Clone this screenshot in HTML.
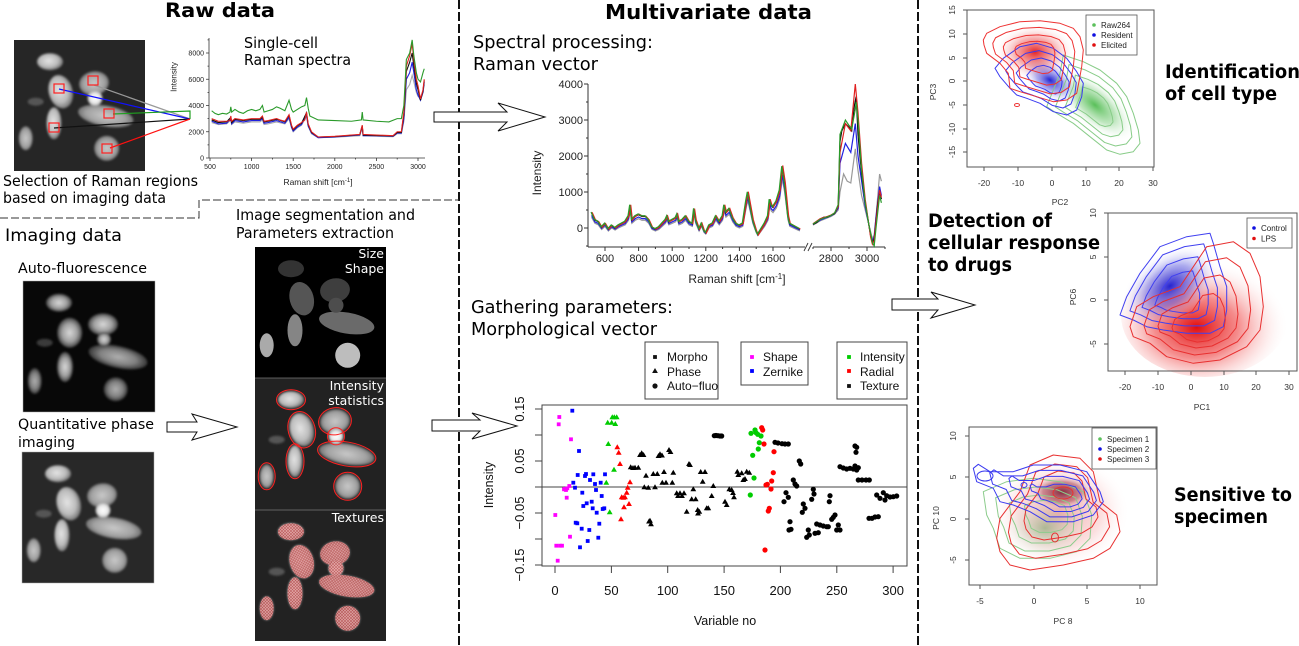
<!DOCTYPE html>
<html><head><meta charset="utf-8"><title>Figure</title>
<style>
html,body{margin:0;padding:0;background:#fff;width:1299px;height:646px;overflow:hidden}
svg{display:block}
.d{font-family:"DejaVu Sans","Liberation Sans",sans-serif}
.l{font-family:"Liberation Sans","DejaVu Sans",sans-serif}
</style></head><body>
<svg width="1299" height="646" viewBox="0 0 1299 646" xmlns="http://www.w3.org/2000/svg">
<defs>
 <filter id="bl" x="-20%" y="-20%" width="140%" height="140%"><feGaussianBlur stdDeviation="1.1"/></filter>
 <radialGradient id="cg" cx="0.45" cy="0.45" r="0.55"><stop offset="0" stop-color="#e4e4e4"/><stop offset="0.65" stop-color="#bcbcbc"/><stop offset="1" stop-color="#767676"/></radialGradient>
 <radialGradient id="cg2" cx="0.5" cy="0.5" r="0.55"><stop offset="0" stop-color="#c8c8c8"/><stop offset="0.65" stop-color="#a2a2a2"/><stop offset="1" stop-color="#626262"/></radialGradient>
 <radialGradient id="cgw" cx="0.5" cy="0.5" r="0.55"><stop offset="0" stop-color="#ffffff"/><stop offset="0.6" stop-color="#e8e8e8"/><stop offset="1" stop-color="#949494"/></radialGradient>
 <radialGradient id="afg" cx="0.5" cy="0.5" r="0.55"><stop offset="0" stop-color="#d8d8d8"/><stop offset="0.55" stop-color="#a0a0a0"/><stop offset="1" stop-color="#2a2a2a"/></radialGradient>
 <radialGradient id="gG" cx="0.5" cy="0.5" r="0.5"><stop offset="0" stop-color="#3cb43c" stop-opacity="0.85"/><stop offset="0.5" stop-color="#70c870" stop-opacity="0.45"/><stop offset="1" stop-color="#ffffff" stop-opacity="0"/></radialGradient>
 <radialGradient id="gB" cx="0.5" cy="0.5" r="0.5"><stop offset="0" stop-color="#1a1ad0" stop-opacity="0.95"/><stop offset="0.5" stop-color="#5a5ae0" stop-opacity="0.5"/><stop offset="1" stop-color="#ffffff" stop-opacity="0"/></radialGradient>
 <radialGradient id="gR" cx="0.5" cy="0.5" r="0.5"><stop offset="0" stop-color="#e00000" stop-opacity="0.95"/><stop offset="0.5" stop-color="#ee5050" stop-opacity="0.5"/><stop offset="1" stop-color="#ffffff" stop-opacity="0"/></radialGradient>
 <radialGradient id="gR2" cx="0.45" cy="0.6" r="0.55"><stop offset="0" stop-color="#e00000" stop-opacity="0.95"/><stop offset="0.45" stop-color="#ee4040" stop-opacity="0.6"/><stop offset="1" stop-color="#ffffff" stop-opacity="0"/></radialGradient>
 <radialGradient id="gR3" cx="0.5" cy="0.5" r="0.5"><stop offset="0" stop-color="#e03c3c" stop-opacity="0.45"/><stop offset="0.6" stop-color="#f08080" stop-opacity="0.25"/><stop offset="1" stop-color="#ffffff" stop-opacity="0"/></radialGradient>
 <radialGradient id="gG3" cx="0.5" cy="0.5" r="0.5"><stop offset="0" stop-color="#50a050" stop-opacity="0.45"/><stop offset="1" stop-color="#ffffff" stop-opacity="0"/></radialGradient>
 <radialGradient id="gD" cx="0.5" cy="0.5" r="0.5"><stop offset="0" stop-color="#7a1830" stop-opacity="0.9"/><stop offset="0.6" stop-color="#a04050" stop-opacity="0.5"/><stop offset="1" stop-color="#ffffff" stop-opacity="0"/></radialGradient>
 <pattern id="hatch" width="3" height="3" patternUnits="userSpaceOnUse"><rect width="3" height="3" fill="#e6a0a0"/><path d="M0,0 L3,3 M3,0 L0,3" stroke="#b84848" stroke-width="0.6"/></pattern>

 <g id="qc" filter="url(#bl)">
  <ellipse cx="21.7" cy="61.7" rx="8" ry="4" fill="#555"/>
  <ellipse cx="36" cy="21.7" rx="13" ry="8.5" fill="url(#cg)"/>
  <ellipse cx="46.7" cy="51.7" rx="12" ry="17" transform="rotate(-15 46.7 51.7)" fill="url(#cg)"/>
  <ellipse cx="80" cy="43.3" rx="15" ry="12" transform="rotate(-10 80 43.3)" fill="url(#cg2)"/>
  <ellipse cx="91.7" cy="76" rx="28" ry="10.5" transform="rotate(10 91.7 76)" fill="url(#cg2)"/>
  <circle cx="81" cy="58.3" r="7.5" fill="url(#cgw)"/>
  <ellipse cx="40" cy="83.3" rx="7.5" ry="16" fill="url(#cg)"/>
  <ellipse cx="11.7" cy="98.3" rx="7" ry="12" fill="url(#cg2)"/>
  <circle cx="92.7" cy="108.3" r="12.5" fill="url(#cg2)"/>
 </g>
 <g id="afc" filter="url(#bl)">
  <ellipse cx="21.7" cy="61.7" rx="8" ry="4" fill="#3a3a3a"/>
  <ellipse cx="36" cy="21.7" rx="13" ry="9" fill="url(#afg)"/>
  <ellipse cx="46.7" cy="51.7" rx="12.5" ry="15" fill="url(#afg)"/>
  <ellipse cx="80" cy="43.3" rx="15" ry="11" fill="url(#afg)"/>
  <ellipse cx="95" cy="76" rx="30" ry="11" transform="rotate(12 95 76)" fill="url(#afg)" opacity="0.8"/>
  <circle cx="81" cy="58.3" r="7" fill="url(#afg)"/>
  <ellipse cx="42" cy="86" rx="8" ry="15" fill="url(#afg)"/>
  <ellipse cx="11.7" cy="100" rx="7" ry="13" fill="url(#afg)" opacity="0.8"/>
  <circle cx="92.7" cy="108.3" r="12" fill="url(#afg)" opacity="0.8"/>
 </g>
 <g id="outl" fill="none" stroke="#ff2020" stroke-width="1">
  <ellipse cx="36" cy="21.7" rx="14.5" ry="10"/>
  <ellipse cx="46.7" cy="51.7" rx="13.5" ry="18.5" transform="rotate(-15 46.7 51.7)"/>
  <ellipse cx="80" cy="43.3" rx="16.5" ry="13.5" transform="rotate(-10 80 43.3)"/>
  <circle cx="81" cy="58.3" r="8.5"/>
  <ellipse cx="91.7" cy="76" rx="29.5" ry="12" transform="rotate(10 91.7 76)"/>
  <ellipse cx="40" cy="83.3" rx="9" ry="17.5"/>
  <ellipse cx="11.7" cy="98.3" rx="8.5" ry="13.5"/>
  <circle cx="92.7" cy="108.3" r="14"/>
 </g>
 <g id="hc" fill="url(#hatch)" opacity="0.85">
  <ellipse cx="36" cy="21.7" rx="13" ry="8.5"/>
  <ellipse cx="46.7" cy="51.7" rx="12" ry="17" transform="rotate(-15 46.7 51.7)"/>
  <ellipse cx="80" cy="43.3" rx="15" ry="12" transform="rotate(-10 80 43.3)"/>
  <circle cx="81" cy="58.3" r="7.5"/>
  <ellipse cx="91.7" cy="76" rx="28" ry="10.5" transform="rotate(10 91.7 76)"/>
  <ellipse cx="40" cy="83.3" rx="7.5" ry="16"/>
  <ellipse cx="11.7" cy="98.3" rx="7" ry="12"/>
  <circle cx="92.7" cy="108.3" r="12.5"/>
 </g>
 <rect id="sq" x="-1.9" y="-1.9" width="3.8" height="3.8"/>
 <path id="tr" d="M0,-3 L2.9,2 L-2.9,2Z"/>
 <circle id="ci" r="2.6"/>

 <path id="spL" vector-effect="non-scaling-stroke" d="M520 400 L540 200 L560 150 L580 0 L600 100 L620 -50 L640 50 L660 -20 L680 50 L700 100 L720 150 L740 300 L750 600 L760 200 L780 300 L800 350 L820 300 L840 300 L860 200 L880 0 L900 -50 L920 0 L940 100 L960 200 L970 300 L980 150 L1000 200 L1020 250 L1030 350 L1040 150 L1060 200 L1080 300 L1100 150 L1120 100 L1130 500 L1140 200 L1160 -50 L1175 100 L1190 -100 L1200 -150 L1220 50 L1240 100 L1260 300 L1280 150 L1300 300 L1310 600 L1320 400 L1340 500 L1360 250 L1380 100 L1400 50 L1420 100 L1440 700 L1450 950 L1460 700 L1480 200 L1500 -100 L1510 -200 L1530 -50 L1550 100 L1570 300 L1580 750 L1590 600 L1600 550 L1620 700 L1640 1000 L1655 1650 L1670 1200 L1690 300 L1700 100 L1740 0 L1760 -50"/>

 <polygon id="g1" vector-effect="non-scaling-stroke" stroke-linejoin="round" points="1063.3,55 1083.3,61.7 1100,70 1116.7,83.3 1126.7,96.7 1133.3,113.3 1138.3,130 1140,143.3 1133.3,151.7 1120,154.3 1106.7,150 1090,136.7 1073.3,123.3 1056.7,113.3 1046.7,106.7 1053.3,90 1060,73.3"/>
 <polygon id="r1" vector-effect="non-scaling-stroke" stroke-linejoin="round" points="983.3,40 986.7,33.3 1000,26.7 1020,21.7 1040,20.7 1060,23.3 1073.3,28.3 1080,36.7 1083.3,50 1081.7,66.7 1079.3,80 1076.7,93.3 1066.7,100 1053.3,101.7 1036.7,96.7 1020,91.7 1010,88.3 1008.3,73.3 1000,63.3 986.7,53.3 984,45"/>
 <polygon id="b1" vector-effect="non-scaling-stroke" stroke-linejoin="round" points="995,68.3 1003.3,58.3 1020,46.7 1036.7,43.3 1053.3,48.3 1066.7,58.3 1076.7,71.7 1083.3,83.3 1081.7,96.7 1076.7,110 1066.7,115 1053.3,111.7 1040,103.3 1026.7,98.3 1016.7,95 1010,88.3 1000,76.7"/>
 <polygon id="b2" vector-effect="non-scaling-stroke" stroke-linejoin="round" points="1120,315 1126.7,296.7 1140,273.3 1160,246.7 1186.7,236.7 1210,233.3 1213.3,243.3 1220,266.7 1226.7,286.7 1226.7,310 1223.3,326.7 1210,333.3 1186.7,333.3 1163.3,330 1146.7,326.7 1133.3,320"/>
 <polygon id="r2" vector-effect="non-scaling-stroke" stroke-linejoin="round" points="1130,326.7 1136.7,306.7 1153.3,296.7 1180,286.7 1206.7,246.7 1233.3,241.7 1250,253.3 1260,276.7 1263.3,306.7 1260,330 1246.7,346.7 1220,360 1193.3,363.3 1166.7,356.7 1150,343.3 1133.3,336.7"/>
 <polygon id="r3" vector-effect="non-scaling-stroke" stroke-linejoin="round" points="996.7,538.3 1000,518.3 1020,491.7 1030,465 1053.3,455 1080,458.3 1093.3,471.7 1100,501.7 1116.7,515 1120,531.7 1110,548.3 1093.3,558.3 1063.3,565 1030,570 1010,565 1000,551.7"/>
 <polygon id="b3" vector-effect="non-scaling-stroke" stroke-linejoin="round" points="973.3,468.3 978.3,464.3 990,471.7 1013.3,471.7 1033.3,465 1060,465 1086.7,471.7 1100,491.7 1103.3,501.7 1093.3,515 1073.3,521.7 1046.7,521.7 1030,511.7 1013.3,505 1000,501.7 993.3,488.3 976.7,481.7"/>
 <polygon id="g3" vector-effect="non-scaling-stroke" stroke-linejoin="round" points="983.3,491.7 1006.7,481.7 1033.3,478.3 1060,481.7 1083.3,491.7 1091.7,515 1090,538.3 1076.7,551.7 1050,558.3 1020,558.3 1000,548.3 993.3,528.3 986.7,515"/>
</defs>

<rect width="1299" height="646" fill="#fff"/>

<!-- dividers -->
<g stroke="#111" fill="none">
 <line x1="459" y1="0" x2="459" y2="646" stroke-width="2" stroke-dasharray="9 3"/>
 <line x1="918" y1="0" x2="918" y2="646" stroke-width="2" stroke-dasharray="9 3"/>
 <polyline points="0,218 199,218 199,200 459,200" stroke-width="1" stroke="#333" stroke-dasharray="8 3"/>
</g>

<!-- titles -->
<text class="d" x="165" y="17" font-size="19.5" font-weight="bold" textLength="110" lengthAdjust="spacingAndGlyphs">Raw data</text>
<text class="d" x="605" y="19" font-size="20" font-weight="bold" textLength="207" lengthAdjust="spacingAndGlyphs">Multivariate data</text>

<!-- top-left image -->
<rect x="14" y="40" width="131" height="131" fill="#262626"/>
<use href="#qc" x="14" y="40"/>
<g stroke-width="1.2">
 <line x1="94" y1="85" x2="190" y2="119" stroke="#999"/>
 <line x1="59" y1="89" x2="190" y2="119" stroke="#1010ff"/>
 <polyline points="113,114 190,111 190,119" fill="none" stroke="#20a020"/>
 <line x1="54" y1="128" x2="190" y2="119" stroke="#111"/>
 <line x1="110" y1="148" x2="190" y2="119" stroke="#ff1010"/>
</g>
<g fill="none" stroke="#ff2020" stroke-width="1.2">
 <rect x="88" y="76" width="10" height="9"/>
 <rect x="54" y="84" width="10" height="9"/>
 <rect x="104" y="109" width="10" height="9"/>
 <rect x="49" y="123" width="10" height="9"/>
 <rect x="102" y="144" width="10" height="9"/>
</g>

<!-- raw spectrum -->
<g class="l" font-size="7" fill="#222">
 <g stroke="#333" stroke-width="0.8" fill="none">
  <line x1="209" y1="38" x2="209" y2="158"/>
  <line x1="209" y1="158" x2="425" y2="158"/>
  <path d="M206,158H209M206,131.75H209M206,105.5H209M206,79.25H209M206,53H209M207.5,144.9H209M207.5,118.6H209M207.5,92.4H209M207.5,66.1H209M207.5,39.9H209"/>
  <path d="M210,158V161M251.6,158V161M293.2,158V161M334.8,158V161M376.4,158V161M418,158V161M230.8,158V159.5M272.4,158V159.5M314,158V159.5M355.6,158V159.5M397.2,158V159.5"/>
 </g>
 <g text-anchor="end">
  <text x="204" y="160.5">0</text><text x="204" y="134.3">2000</text><text x="204" y="108">4000</text><text x="204" y="81.8">6000</text><text x="204" y="55.5">8000</text>
 </g>
 <g text-anchor="middle">
  <text x="210" y="169">500</text><text x="251.6" y="169">1000</text><text x="293.2" y="169">1500</text><text x="334.8" y="169">2000</text><text x="376.4" y="169">2500</text><text x="418" y="169">3000</text>
  <text x="318" y="185" font-size="8.5">Raman shift [cm<tspan font-size="6" dy="-3">-1</tspan><tspan dy="3">]</tspan></text>
  <text x="176.5" y="77" font-size="8" transform="rotate(-90 176.5 77)">Intensity</text>
 </g>
</g>
<g fill="none" stroke-width="1.1" transform="matrix(0.0832 0 0 -0.013125 168.4 158)">
 <path vector-effect="non-scaling-stroke" stroke="#aaaaaa" d="M520 2700 L600 2550 L700 2600 L750 2900 L760 2550 L800 2750 L900 2650 L1000 2750 L1100 2750 L1130 2900 L1150 2550 L1200 2600 L1300 2750 L1400 2600 L1450 3000 L1480 2300 L1500 2000 L1550 2300 L1600 2500 L1660 3200 L1680 2400 L1720 1850 L1800 1550 L2000 1580 L2300 1700 L2330 2300 L2340 1700 L2500 1650 L2700 1620 L2750 1850 L2800 1850 L2830 2800 L2860 5200 L2900 5600 L2930 6300 L2950 5800 L2980 5000 L3000 4700 L3030 4600 L3060 5000 L3075 5600"/>
 <path vector-effect="non-scaling-stroke" stroke="#2020e0" d="M520 2800 L600 2600 L700 2650 L750 3000 L760 2600 L800 2850 L900 2750 L1000 2850 L1100 2850 L1130 3000 L1150 2650 L1200 2700 L1300 2850 L1400 2650 L1450 3100 L1480 2350 L1500 2050 L1550 2350 L1600 2550 L1660 3300 L1680 2450 L1720 1900 L1800 1550 L2000 1600 L2300 1750 L2330 2400 L2340 1700 L2500 1700 L2700 1650 L2750 1900 L2800 1900 L2830 3000 L2860 6000 L2900 6500 L2930 7300 L2950 6500 L2980 5200 L3000 4800 L3030 4400 L3060 5000 L3075 5800"/>
 <path vector-effect="non-scaling-stroke" stroke="#111" d="M520 2900 L600 2700 L700 2750 L750 3100 L760 2700 L800 2950 L900 2850 L1000 2950 L1100 2950 L1130 3100 L1150 2750 L1200 2800 L1300 2950 L1400 2750 L1450 3250 L1480 2450 L1500 2150 L1550 2450 L1600 2650 L1660 3450 L1680 2550 L1720 1950 L1800 1600 L2000 1630 L2300 1780 L2330 2450 L2340 1750 L2500 1720 L2700 1680 L2750 1950 L2800 1950 L2830 3300 L2860 6600 L2900 7300 L2930 8000 L2950 7000 L2980 5700 L3000 5200 L3030 4400 L3060 5100 L3075 5900"/>
 <path vector-effect="non-scaling-stroke" stroke="#e02020" d="M520 3000 L600 2800 L700 2800 L740 2850 L750 3200 L760 2800 L800 3000 L900 2900 L1000 3000 L1100 3000 L1130 3200 L1150 2800 L1200 2850 L1300 3000 L1340 2900 L1400 2800 L1450 3300 L1480 2500 L1500 2200 L1550 2500 L1600 2700 L1640 2900 L1660 3500 L1680 2600 L1720 2000 L1800 1600 L2000 1650 L2300 1800 L2330 2500 L2340 1800 L2500 1750 L2700 1700 L2750 2000 L2800 2000 L2830 3500 L2860 7000 L2900 7800 L2930 8700 L2950 7500 L2980 6000 L3000 5500 L3030 4500 L3060 5200 L3075 6000"/>
 <path vector-effect="non-scaling-stroke" stroke="#2a9a2a" d="M520 3600 L560 3400 L600 3300 L650 3400 L700 3350 L740 3500 L750 3900 L760 3500 L800 3700 L850 3500 L900 3400 L950 3600 L1000 3700 L1050 3600 L1100 3700 L1130 4000 L1150 3500 L1200 3600 L1250 3700 L1300 3900 L1340 3800 L1400 3600 L1450 4400 L1480 3700 L1500 3500 L1550 3700 L1600 3900 L1640 4000 L1660 4600 L1680 3800 L1700 3200 L1800 2900 L2000 2850 L2200 2800 L2320 2900 L2330 3500 L2340 2900 L2500 2800 L2650 2750 L2750 3000 L2800 3000 L2830 4000 L2860 7500 L2900 8000 L2930 9000 L2950 7800 L2980 6500 L3000 6000 L3030 5800 L3060 6500 L3075 6800"/>
</g>
<text class="d" x="244" y="48" font-size="15" textLength="74" lengthAdjust="spacingAndGlyphs">Single-cell</text>
<text class="d" x="244" y="65" font-size="15" textLength="107" lengthAdjust="spacingAndGlyphs">Raman spectra</text>

<text class="d" x="3" y="186" font-size="15" textLength="195" lengthAdjust="spacingAndGlyphs">Selection of Raman regions</text>
<text class="d" x="3" y="203" font-size="15" textLength="163" lengthAdjust="spacingAndGlyphs">based on imaging data</text>
<text class="d" x="236" y="220" font-size="15" textLength="179" lengthAdjust="spacingAndGlyphs">Image segmentation and</text>
<text class="d" x="236" y="238" font-size="15" textLength="158" lengthAdjust="spacingAndGlyphs">Parameters extraction</text>
<text class="d" x="5" y="241" font-size="17" textLength="117" lengthAdjust="spacingAndGlyphs">Imaging data</text>
<text class="d" x="18" y="273" font-size="14" textLength="129" lengthAdjust="spacingAndGlyphs">Auto-fluorescence</text>
<text class="d" x="18" y="429" font-size="14" textLength="136" lengthAdjust="spacingAndGlyphs">Quantitative phase</text>
<text class="d" x="18" y="447" font-size="14" textLength="57" lengthAdjust="spacingAndGlyphs">imaging</text>

<!-- auto-fluorescence image -->
<rect x="23" y="281" width="132" height="131" fill="#080808" stroke="#aaa" stroke-width="0.5"/>
<use href="#afc" x="23" y="281"/>
<!-- QPI image -->
<rect x="22" y="452" width="132" height="131" fill="#282828" stroke="#aaa" stroke-width="0.5"/>
<use href="#qc" x="22" y="452"/>

<!-- segmentation panels -->
<rect x="255" y="247" width="131" height="131" fill="#000"/>
<g transform="translate(255 247)">
  <ellipse cx="36" cy="21.7" rx="13" ry="8.5" fill="#333"/>
  <ellipse cx="46.7" cy="51.7" rx="12" ry="17" transform="rotate(-15 46.7 51.7)" fill="#555"/>
  <ellipse cx="80" cy="43.3" rx="15" ry="12" transform="rotate(-10 80 43.3)" fill="#3e3e3e"/>
  <ellipse cx="91.7" cy="76" rx="28" ry="10.5" transform="rotate(10 91.7 76)" fill="#6a6a6a"/>
  <circle cx="81" cy="58.3" r="7.5" fill="#4d4d4d"/>
  <ellipse cx="40" cy="83.3" rx="7.5" ry="16" fill="#858585"/>
  <ellipse cx="11.7" cy="98.3" rx="7" ry="12" fill="#aaa"/>
  <circle cx="92.7" cy="108.3" r="12.5" fill="#bdbdbd"/>
</g>
<rect x="255" y="378" width="131" height="132" fill="#222"/>
<use href="#qc" x="255" y="378"/>
<use href="#outl" x="255" y="378"/>
<rect x="255" y="510" width="131" height="131" fill="#222"/>
<use href="#qc" x="255" y="510"/>
<use href="#hc" x="255" y="510"/>
<line x1="255" y1="378" x2="386" y2="378" stroke="#777" stroke-width="0.8"/>
<line x1="255" y1="510" x2="386" y2="510" stroke="#777" stroke-width="0.8"/>
<g class="d" fill="#fff" font-size="12.5" text-anchor="end">
 <text x="384" y="258">Size</text>
 <text x="384" y="273">Shape</text>
 <text x="384" y="390">Intensity</text>
 <text x="384" y="405">statistics</text>
 <text x="384" y="522">Textures</text>
</g>

<!-- arrows -->
<g fill="#fff" stroke="#111" stroke-width="1">
 <path d="M434,112 H507 L498,103 L545,117 L498,131 L507,122 H434 Z"/>
 <path d="M432,420 H480 L472,413 L517,426 L472,439 L480,431 H432 Z"/>
 <path d="M892,299 H938 L931,292 L975,305 L931,318 L938,310 H892 Z"/>
 <path d="M167,422 H197 L192,414 L237,427 L192,440 L197,432 H167 Z"/>
</g>

<!-- middle spectral chart -->
<text class="d" x="473" y="48" font-size="18" textLength="180" lengthAdjust="spacingAndGlyphs">Spectral processing:</text>
<text class="d" x="473" y="70" font-size="18" textLength="125" lengthAdjust="spacingAndGlyphs">Raman vector</text>
<g stroke="#333" stroke-width="1" fill="none">
 <line x1="588" y1="84" x2="588" y2="247"/>
 <line x1="588" y1="247" x2="805" y2="247"/>
 <line x1="813" y1="247" x2="885" y2="247"/>
 <path d="M804,251 L808,243 M808,251 L812,243" stroke-width="0.9"/>
 <path d="M584,84H588M584,120H588M584,156H588M584,192H588M584,228H588M586,102H588M586,138H588M586,174H588M586,210H588M586,246H588"/>
 <path d="M605,247V251M638.6,247V251M672.2,247V251M705.8,247V251M739.4,247V251M773,247V251M621.8,247V249M655.4,247V249M689,247V249M722.6,247V249M756.2,247V249M789.8,247V249M831,247V251M867,247V251M813,247V249M849,247V249M885,247V249"/>
</g>
<g class="l" font-size="11" fill="#222">
 <g text-anchor="end"><text x="583" y="88">4000</text><text x="583" y="124">3000</text><text x="583" y="160">2000</text><text x="583" y="196">1000</text><text x="583" y="232">0</text></g>
 <g text-anchor="middle"><text x="605" y="262">600</text><text x="638.6" y="262">800</text><text x="672.2" y="262">1000</text><text x="705.8" y="262">1200</text><text x="739.4" y="262">1400</text><text x="773" y="262">1600</text><text x="831" y="262">2800</text><text x="867" y="262">3000</text>
 <text x="737" y="283" font-size="12">Raman shift [cm<tspan font-size="8" dy="-4">-1</tspan><tspan dy="4">]</tspan></text>
 <text x="541" y="173" font-size="12" transform="rotate(-90 541 173)">Intensity</text></g>
</g>
<g fill="none" stroke-width="1.2">
 <g transform="matrix(0.168 0 0 -0.036 504.2 228)">
  <use href="#spL" stroke="#999" transform="matrix(1 0 0 0.85 0 -40)"/>
  <use href="#spL" stroke="#2020e0" transform="matrix(1 0 0 0.9 0 -10)"/>
  <use href="#spL" stroke="#111" transform="matrix(1 0 0 1 0 20)"/>
  <use href="#spL" stroke="#e02020" transform="matrix(1 0 0 1.04 3 20)"/>
  <use href="#spL" stroke="#2a9a2a" transform="matrix(1 0 0 1.02 -3 35)"/>
 </g>
 <g transform="matrix(0.18 0 0 -0.036 327 228)">
  <path vector-effect="non-scaling-stroke" stroke="#999" d="M2700 80 L2740 200 L2780 280 L2800 320 L2820 380 L2840 500 L2850 1000 L2870 1500 L2890 1300 L2910 1250 L2935 2200 L2950 1600 L2970 900 L2990 500 L3010 100 L3030 -300 L3040 -200 L3050 300 L3070 1500 L3080 1300"/>
  <path vector-effect="non-scaling-stroke" stroke="#2020e0" d="M2700 100 L2740 220 L2780 300 L2800 340 L2820 400 L2840 550 L2850 1800 L2880 2350 L2910 2100 L2935 2900 L2950 2000 L2970 1300 L2990 600 L3010 100 L3020 -200 L3030 -350 L3040 -250 L3050 300 L3070 1150 L3080 900"/>
  <path vector-effect="non-scaling-stroke" stroke="#111" d="M2700 100 L2720 150 L2740 250 L2760 300 L2780 300 L2800 350 L2820 400 L2840 600 L2850 2400 L2860 2700 L2880 2900 L2900 2800 L2915 2700 L2930 3400 L2940 3650 L2950 2600 L2970 1500 L2990 700 L3010 100 L3020 -200 L3030 -400 L3040 -300 L3050 200 L3060 700 L3070 1000 L3080 800"/>
  <path vector-effect="non-scaling-stroke" stroke="#e02020" d="M2700 120 L2740 260 L2780 320 L2800 360 L2820 420 L2840 600 L2850 2100 L2880 2900 L2910 2700 L2935 4000 L2950 3200 L2970 1800 L2990 800 L3010 100 L3020 -250 L3030 -450 L3040 -350 L3050 150 L3070 1050 L3080 850"/>
  <path vector-effect="non-scaling-stroke" stroke="#2a9a2a" d="M2700 110 L2740 240 L2780 310 L2800 350 L2820 420 L2840 650 L2850 2600 L2880 3000 L2900 2850 L2915 2750 L2935 3300 L2940 3500 L2950 3000 L2970 1600 L2990 700 L3010 100 L3030 -400 L3040 -500 L3050 0 L3070 900 L3080 700"/>
 </g>
</g>

<!-- scatter chart -->
<text class="d" x="471" y="313" font-size="18" textLength="202" lengthAdjust="spacingAndGlyphs">Gathering parameters:</text>
<text class="d" x="471" y="335" font-size="18" textLength="186" lengthAdjust="spacingAndGlyphs">Morphological vector</text>
<g fill="none" stroke="#444" stroke-width="1">
 <rect x="645" y="342" width="73" height="57"/>
 <rect x="741" y="342" width="67" height="43"/>
 <rect x="837" y="342" width="70" height="57"/>
 <rect x="542" y="405" width="365" height="161"/>
 <line x1="542" y1="487" x2="907" y2="487"/>
 <path d="M535,409H542M535,435H542M535,461H542M535,487H542M535,513H542M535,539H542M535,565H542"/>
 <path d="M555,566V573M611.4,566V573M667.7,566V573M724.1,566V573M780.4,566V573M836.8,566V573M893.1,566V573"/>
</g>
<g class="l" font-size="12" fill="#111">
 <use href="#sq" x="655" y="357"/><text x="667" y="361">Morpho</text>
 <use href="#tr" x="655" y="371"/><text x="667" y="376">Phase</text>
 <use href="#ci" x="655" y="386"/><text x="667" y="390">Auto−fluo</text>
 <use href="#sq" x="752" y="357" fill="#ff00ff"/><text x="763" y="361">Shape</text>
 <use href="#sq" x="752" y="371" fill="#0000ff"/><text x="763" y="376">Zernike</text>
 <use href="#sq" x="849" y="357" fill="#00cc00"/><text x="860" y="361">Intensity</text>
 <use href="#sq" x="849" y="371" fill="#ff0000"/><text x="860" y="376">Radial</text>
 <use href="#sq" x="849" y="386"/><text x="860" y="390">Texture</text>
</g>
<g class="l" font-size="13" fill="#111" text-anchor="middle">
 <text x="524" y="409" transform="rotate(-90 524 409)">0.15</text>
 <text x="524" y="461" transform="rotate(-90 524 461)">0.05</text>
 <text x="524" y="513" transform="rotate(-90 524 513)">−0.05</text>
 <text x="524" y="565" transform="rotate(-90 524 565)">−0.15</text>
 <text x="555" y="595">0</text><text x="611.4" y="595">50</text><text x="667.7" y="595">100</text><text x="724.1" y="595">150</text><text x="780.4" y="595">200</text><text x="836.8" y="595">250</text><text x="893.1" y="595">300</text>
 <text x="725" y="625" font-size="12.5">Variable no</text>
 <text x="493" y="485" font-size="12.5" transform="rotate(-90 493 485)">Intensity</text>
</g>
<g fill="#ff00ff">
 <use href="#sq" x="559.3" y="417"/><use href="#sq" x="558.7" y="424.3"/><use href="#sq" x="571" y="439.3"/><use href="#sq" x="555.3" y="515"/><use href="#sq" x="556.3" y="545.7"/><use href="#sq" x="560" y="545.7"/><use href="#sq" x="562" y="545.7"/><use href="#sq" x="557.7" y="560.7"/><use href="#sq" x="570" y="536.7"/><use href="#sq" x="566.7" y="497.7"/><use href="#sq" x="564" y="489.3"/><use href="#sq" x="566" y="490"/><use href="#sq" x="567.3" y="488.3"/><use href="#sq" x="569.3" y="486"/><use href="#sq" x="565" y="489"/>
</g>
<g fill="#0000ff">
 <use href="#sq" x="572.3" y="410.7"/><use href="#sq" x="579" y="451"/><use href="#sq" x="577.7" y="475"/><use href="#sq" x="585" y="476"/><use href="#sq" x="586" y="474"/><use href="#sq" x="593.3" y="474.3"/><use href="#sq" x="605" y="474.3"/><use href="#sq" x="573.3" y="482.7"/><use href="#sq" x="575" y="487.7"/><use href="#sq" x="582.3" y="492.7"/><use href="#sq" x="590" y="480"/><use href="#sq" x="595" y="484"/><use href="#sq" x="596" y="490"/><use href="#sq" x="600.7" y="482.7"/><use href="#sq" x="601.7" y="496"/><use href="#sq" x="583.3" y="506"/><use href="#sq" x="586.7" y="503.3"/><use href="#sq" x="591.7" y="501.7"/><use href="#sq" x="592.7" y="508.3"/><use href="#sq" x="596.7" y="512.7"/><use href="#sq" x="602.7" y="509"/><use href="#sq" x="604.3" y="508.3"/><use href="#sq" x="575.7" y="522.7"/><use href="#sq" x="577.3" y="523.3"/><use href="#sq" x="581.7" y="528.7"/><use href="#sq" x="589.3" y="530"/><use href="#sq" x="587.7" y="541"/><use href="#sq" x="580" y="547.3"/><use href="#sq" x="598.3" y="537.7"/><use href="#sq" x="599.3" y="523.7"/>
</g>
<g fill="#00cc00">
 <use href="#tr" x="607.7" y="422.7"/><use href="#tr" x="611.7" y="422.7"/><use href="#tr" x="615.3" y="424"/><use href="#tr" x="612.3" y="417.3"/><use href="#tr" x="616.7" y="417.3"/><use href="#tr" x="614.3" y="417.3"/><use href="#tr" x="608.3" y="444"/><use href="#tr" x="614" y="469.7"/><use href="#tr" x="606.3" y="482.7"/><use href="#tr" x="609.7" y="512.3"/>
 <use href="#ci" x="751" y="433.3"/><use href="#ci" x="755" y="430"/><use href="#ci" x="756" y="432.7"/><use href="#ci" x="757.7" y="434.3"/><use href="#ci" x="761" y="436"/><use href="#ci" x="759.3" y="442.7"/><use href="#ci" x="758.3" y="449"/><use href="#ci" x="752.7" y="455.3"/><use href="#ci" x="754" y="478"/><use href="#ci" x="750.3" y="495"/>
</g>
<g fill="#ff0000">
 <use href="#tr" x="617.3" y="447.3"/><use href="#tr" x="618.7" y="452.7"/><use href="#tr" x="620" y="464"/><use href="#tr" x="630" y="482.3"/><use href="#tr" x="627.7" y="487.7"/><use href="#tr" x="626.7" y="492.7"/><use href="#tr" x="621.7" y="497.3"/><use href="#tr" x="623.3" y="497.7"/><use href="#tr" x="625" y="497.3"/><use href="#tr" x="629" y="504"/><use href="#tr" x="624" y="507.3"/><use href="#tr" x="621" y="519.3"/>
 <use href="#ci" x="761.7" y="427.7"/><use href="#ci" x="762.7" y="430"/><use href="#ci" x="764" y="444"/><use href="#ci" x="774" y="451.7"/><use href="#ci" x="773.3" y="472.7"/><use href="#ci" x="771.7" y="481"/><use href="#ci" x="771" y="489"/><use href="#ci" x="766" y="485"/><use href="#ci" x="767.3" y="484.3"/><use href="#ci" x="769.3" y="508.3"/><use href="#ci" x="768.3" y="511"/><use href="#ci" x="765" y="550"/>
</g>
<g fill="#000">
 <use href="#tr" x="641.7" y="453.3"/><use href="#tr" x="643.5" y="455"/><use href="#tr" x="640" y="455"/>
 <use href="#tr" x="660" y="454.3"/><use href="#tr" x="662" y="455.5"/><use href="#tr" x="658.5" y="456"/>
 <use href="#tr" x="669" y="450"/><use href="#tr" x="670.5" y="452"/>
 <use href="#tr" x="630.7" y="467.3"/><use href="#tr" x="635" y="467.7"/><use href="#tr" x="638.3" y="467.7"/><use href="#tr" x="633" y="468"/>
 <use href="#tr" x="646" y="475.7"/><use href="#tr" x="653.3" y="474"/><use href="#tr" x="657.3" y="474"/>
 <use href="#tr" x="664" y="472"/><use href="#tr" x="673.3" y="472.7"/>
 <use href="#tr" x="644.3" y="487.3"/><use href="#tr" x="648.3" y="487.7"/><use href="#tr" x="655" y="487.3"/>
 <use href="#tr" x="662.3" y="482.7"/><use href="#tr" x="666" y="482.7"/><use href="#tr" x="672.3" y="482.7"/>
 <use href="#tr" x="650" y="520.7"/><use href="#tr" x="651" y="524.3"/><use href="#tr" x="649" y="521.5"/>
 <use href="#tr" x="676.7" y="493.3"/><use href="#tr" x="680" y="493.3"/><use href="#tr" x="684" y="493.3"/><use href="#tr" x="678" y="496"/><use href="#tr" x="682" y="496"/>
 <use href="#tr" x="689" y="464"/><use href="#tr" x="690" y="465"/>
 <use href="#tr" x="693.3" y="489.3"/><use href="#tr" x="691.7" y="499.3"/><use href="#tr" x="695.7" y="499.3"/>
 <use href="#tr" x="686.7" y="511.7"/>
 <use href="#tr" x="697.7" y="510"/><use href="#tr" x="699.3" y="511.7"/><use href="#tr" x="698" y="513.5"/>
 <use href="#tr" x="706.7" y="508.3"/><use href="#tr" x="708.3" y="508.3"/>
 <use href="#tr" x="700.7" y="472"/><use href="#tr" x="705" y="472"/>
 <use href="#tr" x="702.7" y="481.7"/>
 <use href="#tr" x="711.7" y="496"/><use href="#tr" x="713.3" y="486"/>
 <use href="#tr" x="725" y="501.7"/><use href="#tr" x="726.7" y="505"/>
 <use href="#tr" x="729.3" y="489.3"/><use href="#tr" x="731.7" y="490"/>
 <use href="#tr" x="734" y="497.3"/><use href="#tr" x="733" y="493"/>
 <use href="#tr" x="737.3" y="471.7"/><use href="#tr" x="741.7" y="473.3"/><use href="#tr" x="746.7" y="471.7"/><use href="#tr" x="749.3" y="472.7"/>
 <use href="#tr" x="738.3" y="475"/><use href="#tr" x="743.3" y="480"/><use href="#tr" x="745" y="479"/>
 <use href="#ci" x="714.3" y="435.7"/><use href="#ci" x="716" y="435.5"/><use href="#ci" x="718" y="435.7"/><use href="#ci" x="720" y="436"/><use href="#ci" x="721.7" y="436"/>
 <use href="#ci" x="775" y="442.3"/><use href="#ci" x="778" y="443"/><use href="#ci" x="782" y="443.7"/><use href="#ci" x="785" y="444"/><use href="#ci" x="788.3" y="444"/>
 <use href="#ci" x="799.3" y="461"/><use href="#ci" x="800.7" y="464"/>
 <use href="#ci" x="793.3" y="480"/><use href="#ci" x="795" y="484"/><use href="#ci" x="796.7" y="486"/>
 <use href="#ci" x="786" y="492.7"/><use href="#ci" x="788.3" y="497.3"/><use href="#ci" x="784" y="501.7"/>
 <use href="#ci" x="790" y="521.7"/><use href="#ci" x="791" y="529.3"/><use href="#ci" x="789" y="530"/>
 <use href="#ci" x="803.3" y="504"/><use href="#ci" x="805" y="508.3"/><use href="#ci" x="802.3" y="512.3"/>
 <use href="#ci" x="813.3" y="489.3"/><use href="#ci" x="814" y="494"/><use href="#ci" x="811.7" y="499.3"/>
 <use href="#ci" x="808.3" y="530"/><use href="#ci" x="806.7" y="537.3"/><use href="#ci" x="809.3" y="535"/>
 <use href="#ci" x="816.7" y="524"/><use href="#ci" x="820" y="525"/><use href="#ci" x="823.3" y="526"/><use href="#ci" x="826.7" y="526.7"/><use href="#ci" x="828.3" y="526.7"/>
 <use href="#ci" x="815" y="533.3"/><use href="#ci" x="818.3" y="532.7"/>
 <use href="#ci" x="830" y="495.7"/><use href="#ci" x="829.3" y="501.7"/>
 <use href="#ci" x="835" y="515"/><use href="#ci" x="833.3" y="517.3"/><use href="#ci" x="831.7" y="519.3"/>
 <use href="#ci" x="838.3" y="525"/><use href="#ci" x="836.7" y="530"/><use href="#ci" x="840" y="530"/>
 <use href="#ci" x="840" y="466.7"/><use href="#ci" x="843.3" y="468"/><use href="#ci" x="846.7" y="469"/><use href="#ci" x="850" y="468.3"/><use href="#ci" x="853.3" y="469"/><use href="#ci" x="856.7" y="470"/><use href="#ci" x="858.3" y="467.7"/><use href="#ci" x="855" y="466"/>
 <use href="#ci" x="855" y="446"/><use href="#ci" x="856.7" y="447.3"/><use href="#ci" x="856" y="452.3"/>
 <use href="#ci" x="858.3" y="480"/><use href="#ci" x="862" y="480"/><use href="#ci" x="866" y="480"/><use href="#ci" x="869.3" y="480"/>
 <use href="#ci" x="869" y="518.3"/><use href="#ci" x="872" y="518.3"/><use href="#ci" x="875" y="517"/><use href="#ci" x="878.3" y="516.7"/>
 <use href="#ci" x="876.7" y="495"/><use href="#ci" x="880" y="498.3"/><use href="#ci" x="883.3" y="492.7"/><use href="#ci" x="886.7" y="495.7"/><use href="#ci" x="890" y="497"/><use href="#ci" x="893.3" y="496.7"/><use href="#ci" x="896.7" y="496"/><use href="#ci" x="885" y="500"/>
</g>

<!-- right: plot 1 -->
<ellipse cx="1095" cy="105" rx="50" ry="22" transform="rotate(40 1095 105)" fill="url(#gG)"/>
<ellipse cx="1050" cy="80" rx="32" ry="18" transform="rotate(35 1050 80)" fill="url(#gB)"/>
<ellipse cx="1035" cy="52" rx="40" ry="28" fill="url(#gR)" opacity="0.9"/>
<g fill="none" stroke-width="1">
 <g stroke="#88cc88">
  <use href="#g1"/>
  <use href="#g1" transform="translate(1095 108) scale(0.82) translate(-1095 -108)"/>
  <use href="#g1" transform="translate(1095 108) scale(0.62) translate(-1095 -108)"/>
  <use href="#g1" transform="translate(1095 108) scale(0.4) translate(-1095 -108)"/>
 </g>
 <g stroke="#3a3af0">
  <use href="#b1"/>
  <use href="#b1" transform="translate(1048 80) scale(0.8) translate(-1048 -80)"/>
  <use href="#b1" transform="translate(1048 80) scale(0.6) translate(-1048 -80)"/>
  <use href="#b1" transform="translate(1048 80) scale(0.4) translate(-1048 -80)"/>
 </g>
 <g stroke="#ee3333">
  <use href="#r1"/>
  <use href="#r1" transform="translate(1036 58) scale(0.82) translate(-1036 -58)"/>
  <use href="#r1" transform="translate(1036 58) scale(0.62) translate(-1036 -58)"/>
  <use href="#r1" transform="translate(1036 55) scale(0.4) translate(-1036 -55)"/>
  <ellipse cx="1017" cy="105" rx="2.5" ry="1.5"/>
 </g>
</g>
<rect x="967" y="10" width="187" height="157" fill="none" stroke="#555" stroke-width="1"/>
<g stroke="#555" stroke-width="1" fill="none">
 <path d="M963,10H967M963,34H967M963,58H967M963,81H967M963,105H967M963,129H967M963,152H967"/>
 <path d="M984,167V171M1018,167V171M1052,167V171M1086,167V171M1119,167V171M1153,167V171"/>
</g>
<g class="l" font-size="8.5" fill="#333" text-anchor="middle">
 <text x="955" y="10" transform="rotate(-90 955 10)">15</text>
 <text x="955" y="34" transform="rotate(-90 955 34)">10</text>
 <text x="955" y="58" transform="rotate(-90 955 58)">5</text>
 <text x="955" y="81" transform="rotate(-90 955 81)">0</text>
 <text x="955" y="105" transform="rotate(-90 955 105)">-5</text>
 <text x="955" y="129" transform="rotate(-90 955 129)">-10</text>
 <text x="955" y="152" transform="rotate(-90 955 152)">-15</text>
 <text x="984" y="186">-20</text><text x="1018" y="186">-10</text><text x="1052" y="186">0</text><text x="1086" y="186">10</text><text x="1119" y="186">20</text><text x="1153" y="186">30</text>
 <text x="1060" y="205">PC2</text>
 <text x="936" y="92" transform="rotate(-90 936 92)">PC3</text>
</g>
<rect x="1086" y="15" width="51" height="40" fill="#fff" stroke="#555" stroke-width="0.8"/>
<g class="l" font-size="8" fill="#222">
 <circle cx="1094" cy="25" r="1.8" fill="#5cc05c"/><text x="1101" y="28">Raw264</text>
 <circle cx="1094" cy="35" r="1.8" fill="#1010e0"/><text x="1101" y="38">Resident</text>
 <circle cx="1094" cy="45" r="1.8" fill="#e01010"/><text x="1101" y="48">Elicited</text>
</g>
<text class="d" x="1165" y="78" font-size="18.5" font-weight="bold" textLength="135" lengthAdjust="spacingAndGlyphs">Identification</text>
<text class="d" x="1165" y="100" font-size="18.5" font-weight="bold" textLength="112" lengthAdjust="spacingAndGlyphs">of cell type</text>

<!-- plot 2 -->
<ellipse cx="1205" cy="315" rx="84" ry="62" fill="url(#gR2)"/>
<ellipse cx="1170" cy="286" rx="54" ry="34" transform="rotate(-35 1170 286)" fill="url(#gB)"/>
<g fill="none" stroke-width="1">
 <g stroke="#4040f0">
  <use href="#b2"/>
  <use href="#b2" transform="translate(1175 292) scale(0.82) translate(-1175 -292)"/>
  <use href="#b2" transform="translate(1178 295) scale(0.62) translate(-1178 -295)"/>
  <use href="#b2" transform="translate(1180 298) scale(0.42) translate(-1180 -298)"/>
 </g>
 <g stroke="#e83030">
  <use href="#r2"/>
  <use href="#r2" transform="translate(1200 322) scale(0.8) translate(-1200 -322)"/>
  <use href="#r2" transform="translate(1200 325) scale(0.6) translate(-1200 -325)"/>
  <use href="#r2" transform="translate(1200 328) scale(0.4) translate(-1200 -328)"/>
 </g>
</g>
<rect x="1108" y="213" width="189" height="158" fill="none" stroke="#555" stroke-width="1"/>
<g stroke="#555" stroke-width="1" fill="none">
 <path d="M1104,213H1108M1104,257H1108M1104,300H1108M1104,344H1108"/>
 <path d="M1125,371V375M1158,371V375M1191,371V375M1224,371V375M1256,371V375M1289,371V375"/>
</g>
<g class="l" font-size="8.5" fill="#333" text-anchor="middle">
 <text x="1096" y="213" transform="rotate(-90 1096 213)">10</text>
 <text x="1096" y="257" transform="rotate(-90 1096 257)">5</text>
 <text x="1096" y="300" transform="rotate(-90 1096 300)">0</text>
 <text x="1096" y="344" transform="rotate(-90 1096 344)">-5</text>
 <text x="1125" y="390">-20</text><text x="1158" y="390">-10</text><text x="1191" y="390">0</text><text x="1224" y="390">10</text><text x="1256" y="390">20</text><text x="1289" y="390">30</text>
 <text x="1202" y="410">PC1</text>
 <text x="1076" y="297" transform="rotate(-90 1076 297)">PC6</text>
</g>
<rect x="1247" y="218" width="45" height="30" fill="#fff" stroke="#555" stroke-width="0.8"/>
<g class="l" font-size="8" fill="#222">
 <circle cx="1254" cy="228" r="1.8" fill="#1010e0"/><text x="1261" y="231">Control</text>
 <circle cx="1254" cy="238.5" r="1.8" fill="#e01010"/><text x="1261" y="241.5">LPS</text>
</g>
<text class="d" x="928" y="227" font-size="18.5" font-weight="bold" textLength="124" lengthAdjust="spacingAndGlyphs">Detection of</text>
<text class="d" x="928" y="249" font-size="18.5" font-weight="bold" textLength="172" lengthAdjust="spacingAndGlyphs">cellular response</text>
<text class="d" x="928" y="271" font-size="18.5" font-weight="bold" textLength="84" lengthAdjust="spacingAndGlyphs">to drugs</text>

<!-- plot 3 -->
<ellipse cx="1060" cy="512" rx="70" ry="58" fill="url(#gR3)"/>
<ellipse cx="1045" cy="528" rx="46" ry="34" fill="url(#gG3)"/>
<ellipse cx="1062" cy="492" rx="32" ry="17" fill="url(#gD)"/>
<g fill="none" stroke-width="1">
 <g stroke="#8ccc8c">
  <use href="#g3"/>
  <use href="#g3" transform="translate(1045 522) scale(0.8) translate(-1045 -522)"/>
  <use href="#g3" transform="translate(1048 520) scale(0.6) translate(-1048 -520)"/>
  <use href="#g3" transform="translate(1052 515) scale(0.4) translate(-1052 -515)"/>
 </g>
 <g stroke="#e83030">
  <use href="#r3"/>
  <use href="#r3" transform="translate(1062 505) scale(0.82) translate(-1062 -505)"/>
  <use href="#r3" transform="translate(1065 495) scale(0.6) translate(-1065 -495)"/>
  <ellipse cx="1063" cy="493" rx="10" ry="6"/>
  <ellipse cx="1055" cy="537.5" rx="3.5" ry="4.5"/>
 </g>
 <g stroke="#3a3af0">
  <use href="#b3"/>
  <use href="#b3" transform="translate(1065 495) scale(0.82) translate(-1065 -495)"/>
  <use href="#b3" transform="translate(1067 495) scale(0.62) translate(-1067 -495)"/>
  <use href="#b3" transform="translate(1068 497) scale(0.4) translate(-1068 -497)"/>
  <ellipse cx="985" cy="476" rx="8" ry="5"/>
  <ellipse cx="1024" cy="485" rx="3" ry="2.5"/>
 </g>
</g>
<rect x="969" y="427" width="188" height="158" fill="none" stroke="#555" stroke-width="1"/>
<g stroke="#555" stroke-width="1" fill="none">
 <path d="M965,436H969M965,477H969M965,519H969M965,560H969"/>
 <path d="M980,585V589M1034,585V589M1087,585V589M1140,585V589"/>
</g>
<g class="l" font-size="8.5" fill="#333" text-anchor="middle">
 <text x="956" y="436" transform="rotate(-90 956 436)">10</text>
 <text x="956" y="477" transform="rotate(-90 956 477)">5</text>
 <text x="956" y="519" transform="rotate(-90 956 519)">0</text>
 <text x="956" y="560" transform="rotate(-90 956 560)">-5</text>
 <text x="980" y="604">-5</text><text x="1034" y="604">0</text><text x="1087" y="604">5</text><text x="1140" y="604">10</text>
 <text x="1063" y="624">PC 8</text>
 <text x="939" y="518" transform="rotate(-90 939 518)">PC 10</text>
</g>
<rect x="1092" y="428" width="64" height="41" fill="#fff" stroke="#555" stroke-width="0.8"/>
<g class="l" font-size="8" fill="#222">
 <circle cx="1100" cy="439" r="1.8" fill="#5cc05c"/><text x="1107" y="442">Specimen 1</text>
 <circle cx="1100" cy="449" r="1.8" fill="#1010e0"/><text x="1107" y="452">Specimen 2</text>
 <circle cx="1100" cy="459" r="1.8" fill="#e01010"/><text x="1107" y="462">Specimen 3</text>
</g>
<text class="d" x="1174" y="501" font-size="18.5" font-weight="bold" textLength="118" lengthAdjust="spacingAndGlyphs">Sensitive to</text>
<text class="d" x="1174" y="523" font-size="18.5" font-weight="bold" textLength="94" lengthAdjust="spacingAndGlyphs">specimen</text>
</svg>
</body></html>
